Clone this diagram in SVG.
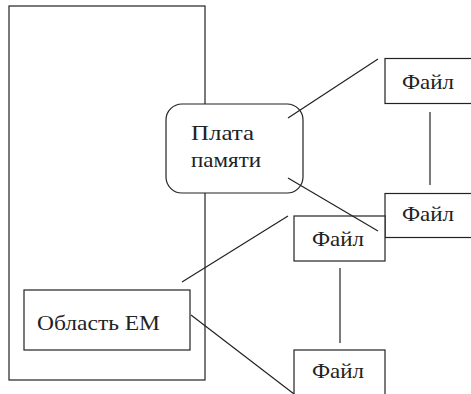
<svg xmlns="http://www.w3.org/2000/svg" width="471" height="394" viewBox="0 0 471 394">
<rect width="471" height="394" fill="#fff"/>
<g id="system" fill="#fff" stroke="#222" stroke-width="1.2"><rect x="9" y="6" width="196" height="374"/></g>
<g id="memboard"><rect fill="#fff" stroke="#222" stroke-width="1.2" x="166" y="104" width="137" height="89" rx="16"/>
<text font-family="Liberation Serif" font-size="22" fill="#222" x="191" y="140" textLength="63" lengthAdjust="spacingAndGlyphs">Плата</text>
<text font-family="Liberation Serif" font-size="22" fill="#222" x="191" y="167" textLength="70" lengthAdjust="spacingAndGlyphs">памяти</text></g>
<g id="file1"><rect fill="#fff" stroke="#222" stroke-width="1.2" x="385" y="58.5" width="90" height="45"/><text font-family="Liberation Serif" font-size="22" fill="#222" x="402" y="89" textLength="52" lengthAdjust="spacingAndGlyphs">Файл</text></g>
<g id="file2"><rect fill="#fff" stroke="#222" stroke-width="1.2" x="385" y="193.5" width="90" height="44"/><text font-family="Liberation Serif" font-size="22" fill="#222" x="402" y="221" textLength="52" lengthAdjust="spacingAndGlyphs">Файл</text></g>
<g id="file3"><rect fill="#fff" stroke="#222" stroke-width="1.2" x="294" y="216" width="91" height="45"/><text font-family="Liberation Serif" font-size="22" fill="#222" x="312" y="246" textLength="52" lengthAdjust="spacingAndGlyphs">Файл</text></g>
<g id="file4"><rect fill="#fff" stroke="#222" stroke-width="1.2" x="294" y="350" width="91" height="50"/><text font-family="Liberation Serif" font-size="22" fill="#222" x="312" y="378" textLength="52" lengthAdjust="spacingAndGlyphs">Файл</text></g>
<g id="emarea"><rect fill="#fff" stroke="#222" stroke-width="1.2" x="24" y="290" width="166" height="60"/><text font-family="Liberation Serif" font-size="22" fill="#222" x="37" y="330" textLength="123" lengthAdjust="spacingAndGlyphs">Область ЕМ</text></g>
<g id="connectors" stroke="#222" stroke-width="1.2" fill="none">
<line x1="288" y1="118" x2="378" y2="59"/>
<line x1="430" y1="112" x2="430" y2="185"/>
<line x1="288" y1="178" x2="378" y2="231"/>
<line x1="182" y1="282" x2="288" y2="216"/>
<line x1="340" y1="268" x2="340" y2="343"/>
<line x1="191" y1="315" x2="294" y2="394"/>
</g>
</svg>
